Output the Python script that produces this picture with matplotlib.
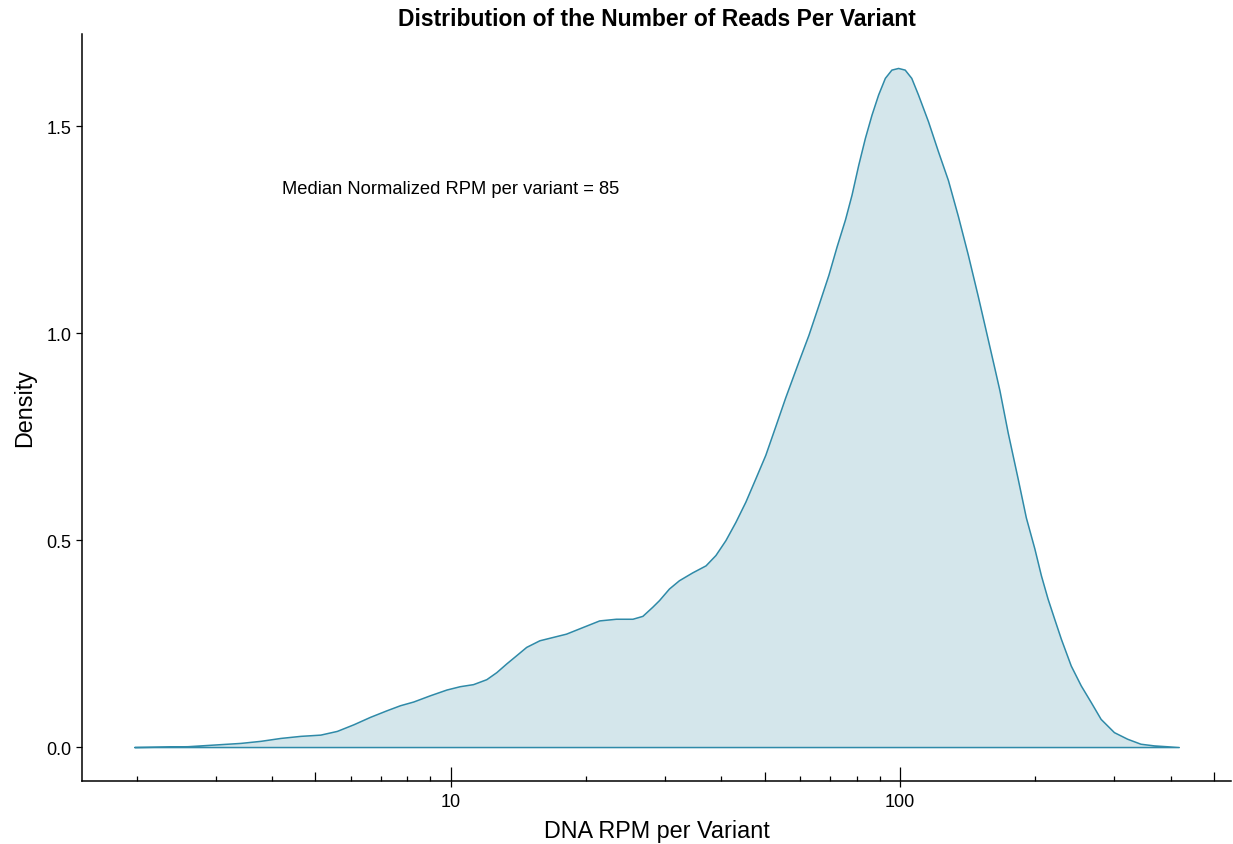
import matplotlib.pyplot as plt
import numpy as np
from matplotlib.ticker import FixedLocator, NullLocator, FormatStrFormatter

plt.rcParams['font.family'] = ['Liberation Sans', 'DejaVu Sans']

# density of DNA RPM per variant (log10 scale on x)
rpm = [1.975, 2.264, 2.594, 2.972, 3.405, 3.772, 4.177, 4.627, 5.124, 5.579,
       6.073, 6.613, 7.202, 7.708, 8.251, 8.982, 9.783, 10.47, 11.21, 12.00,
       12.63, 13.29, 13.99, 14.72, 15.75, 16.86, 18.05, 19.65, 21.40, 23.31,
       25.37, 26.70, 28.09, 29.07, 30.59, 32.19, 34.46, 36.90, 38.82, 40.86,
       43.00, 45.26, 47.62, 50.12, 52.74, 55.51, 59.41, 62.52, 65.80, 69.25,
       72.24, 75.40, 77.98, 80.70, 83.50, 86.37, 89.37, 92.49, 95.65, 98.99,
       102.4, 105.9, 109.6, 115.4, 121.4, 127.8, 134.5, 141.5, 148.9, 154.1,
       162.2, 166.4, 173.6, 182.6, 190.5, 199.0, 205.8, 212.9, 220.3, 227.9,
       239.8, 252.4, 265.6, 279.5, 299.2, 320.3, 342.8, 367.0, 417.1]
density = [0.000, 0.001, 0.002, 0.006, 0.010, 0.015, 0.022, 0.027, 0.030, 0.039,
           0.055, 0.073, 0.089, 0.101, 0.110, 0.125, 0.139, 0.147, 0.152, 0.164,
           0.181, 0.202, 0.222, 0.242, 0.258, 0.266, 0.274, 0.290, 0.306, 0.310,
           0.310, 0.317, 0.339, 0.355, 0.383, 0.403, 0.422, 0.439, 0.464, 0.500,
           0.544, 0.593, 0.649, 0.706, 0.775, 0.845, 0.932, 0.996, 1.068, 1.141,
           1.210, 1.275, 1.335, 1.407, 1.472, 1.528, 1.577, 1.617, 1.637, 1.641,
           1.637, 1.617, 1.577, 1.512, 1.440, 1.370, 1.283, 1.190, 1.090, 1.020,
           0.915, 0.862, 0.760, 0.650, 0.555, 0.480, 0.415, 0.359, 0.310, 0.262,
           0.197, 0.149, 0.109, 0.068, 0.036, 0.020, 0.008, 0.004, 0.000]

median_rpm = 85
x_major = [10, 100]
x_mid = [5, 50, 500]
x_short = [2, 3, 4, 6, 7, 8, 9, 20, 30, 40, 60, 70, 80, 90, 200, 300, 400]
y_ticks = [0.0, 0.5, 1.0, 1.5]

line_col = '#2f8aa8'
fill_col = '#d4e6eb'

fig = plt.figure(figsize=(12.33, 8.45), dpi=100)
ax = fig.add_axes([82 / 1233, 63 / 845, 1149 / 1233, 747 / 845])

ax.fill_between(rpm, density, 0, facecolor=fill_col, edgecolor=line_col, linewidth=1.1)

ax.set_xscale('log')
lo, hi = np.log10(rpm[0]), np.log10(rpm[-1])
pad = 0.05 * (hi - lo)
ax.set_xlim(10 ** (lo - pad), 10 ** (hi + pad))
pad_y = 0.05 * max(density)
ax.set_ylim(-pad_y, max(density) + pad_y)

ax.xaxis.set_major_locator(FixedLocator(x_major))
ax.xaxis.set_minor_locator(NullLocator())
ax.set_xticklabels([str(v) for v in x_major])
ax.yaxis.set_major_locator(FixedLocator(y_ticks))
ax.yaxis.set_major_formatter(FormatStrFormatter('%.1f'))

ax.tick_params(axis='both', direction='out', length=4.3, width=0.9, color='black',
               labelsize=13, labelcolor='black')
ax.tick_params(axis='x', pad=4.5)
ax.tick_params(axis='y', pad=3.5)

# log ticks drawn inside the panel along the bottom
xt = ax.get_xaxis_transform()
ax_h = 747.0
for pos, h in [(x_short, 5), (x_mid, 9.5), (x_major, 14)]:
    ax.vlines(pos, 0, h / ax_h, transform=xt, color='black', linewidth=0.9, clip_on=False)

for s in ['top', 'right']:
    ax.spines[s].set_visible(False)
for s in ['left', 'bottom']:
    ax.spines[s].set_linewidth(1.1)
    ax.spines[s].set_color('black')

ax.text(10, 1.35, 'Median Normalized RPM per variant = %d' % median_rpm,
        ha='center', va='center', fontsize=13.2)

ax.set_title('Distribution of the Number of Reads Per Variant', fontsize=16.5,
             fontweight='bold', pad=6.5)
ax.set_xlabel('DNA RPM per Variant', fontsize=16.8, labelpad=6)
ax.set_ylabel('Density', fontsize=16.8, labelpad=7)

fig.savefig('out.png', dpi=100)
